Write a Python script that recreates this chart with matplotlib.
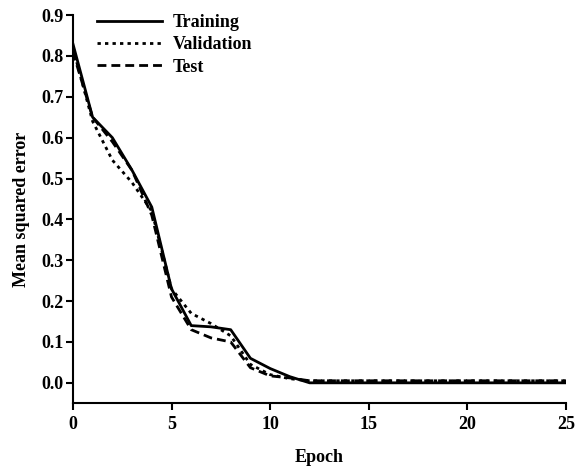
import matplotlib
matplotlib.use("Agg")
import matplotlib.pyplot as plt
import numpy as np

epochs = np.arange(0, 26)
training = [0.83, 0.65, 0.60, 0.52, 0.43, 0.23, 0.14, 0.137, 0.13, 0.06, 0.035, 0.015, 0.0,
            0.0, 0.0, 0.0, 0.0, 0.0, 0.0, 0.0, 0.0, 0.0, 0.0, 0.0, 0.0, 0.0]
validation = [0.82, 0.64, 0.545, 0.49, 0.42, 0.23, 0.17, 0.145, 0.115, 0.045, 0.02, 0.01, 0.005,
              0.005, 0.005, 0.005, 0.005, 0.005, 0.005, 0.005, 0.005, 0.005, 0.005, 0.005, 0.005, 0.005]
test = [0.81, 0.65, 0.59, 0.52, 0.41, 0.21, 0.13, 0.11, 0.10, 0.037, 0.017, 0.012, 0.005,
        0.005, 0.005, 0.005, 0.005, 0.005, 0.005, 0.005, 0.005, 0.005, 0.005, 0.005, 0.005, 0.005]

plt.rcParams['font.family'] = ['Liberation Serif', 'DejaVu Serif']
plt.rcParams['font.size'] = 13

fig = plt.figure(figsize=(5.83, 4.70), dpi=100)
ax = fig.add_axes([0.125, 0.142, 0.846, 0.826])

ax.plot(epochs, training, color='black', lw=2.0, ls='-', label='Training')
ax.plot(epochs, validation, color='black', lw=2.0, ls=(0, (1.2, 1.5)), label='Validation')
ax.plot(epochs, test, color='black', lw=2.0, ls=(0, (3.2, 1.8)), label='Test')

ax.set_xlim(0, 25)
ax.set_ylim(-0.05, 0.9)
ax.set_xticks([0, 5, 10, 15, 20, 25])
ax.set_yticks(np.arange(0, 0.91, 0.1))
ax.yaxis.set_major_formatter(matplotlib.ticker.FormatStrFormatter('%.1f'))
for lab in ax.get_xticklabels() + ax.get_yticklabels():
    lab.set_fontweight('bold')
ax.tick_params(axis='y', direction='out', length=5, width=1.5, pad=2)
ax.tick_params(axis='x', direction='out', length=5, width=1.5, pad=4)
ax.spines['top'].set_visible(False)
ax.spines['right'].set_visible(False)
ax.spines['left'].set_linewidth(1.5)
ax.spines['bottom'].set_linewidth(1.5)

ax.set_xlabel('Epoch', fontweight='bold', labelpad=12)
ax.set_ylabel('Mean squared error', fontweight='bold', labelpad=8)

leg = ax.legend(loc='upper left', bbox_to_anchor=(0.015, 1.045), frameon=False,
                handlelength=3.6, handletextpad=0.6, labelspacing=0.3,
                prop={'weight': 'bold', 'size': 13})

fig.savefig('out.png', dpi=100)
